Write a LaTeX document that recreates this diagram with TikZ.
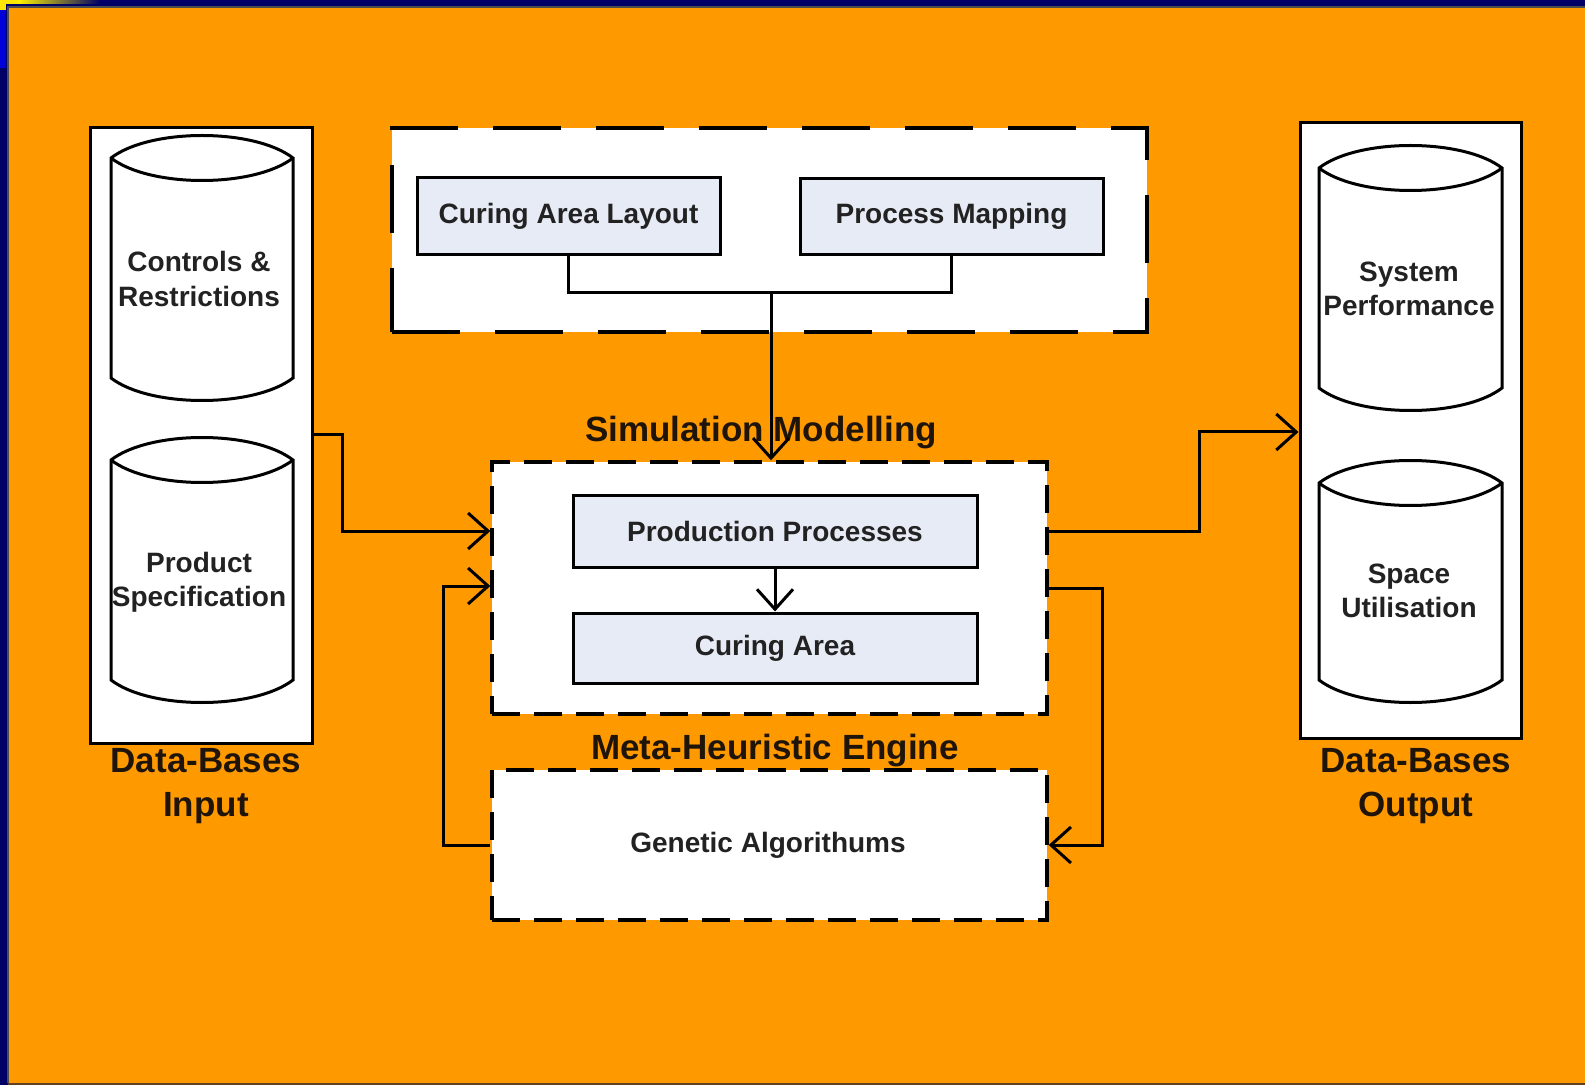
\documentclass[tikz,border=0pt]{standalone}
\usepackage{fontspec}
\setmainfont{Liberation Sans}
\usetikzlibrary{arrows.meta}
\definecolor{navy}{RGB}{0,0,102}
\definecolor{bgorange}{RGB}{255,153,0}
\definecolor{boxfill}{RGB}{230,235,245}
\definecolor{txt}{RGB}{34,34,34}
\definecolor{lbl}{RGB}{30,20,10}
\begin{document}
\begin{tikzpicture}[x=0.5pt,y=-0.5pt,
  dbbox/.style={draw=black, fill=white, line width=1.5pt, inner sep=0pt},
  dashbox/.style={draw=black, fill=white, line width=1.7pt, inner sep=0pt, dash pattern=on 14pt off 7pt},
  bigdash/.style={dashbox, dash pattern=on 34pt off 17.5pt},
  smallbox/.style={draw=black, fill=boxfill, line width=1.5pt, inner sep=0pt, text=txt,
     font=\fontsize{14}{17}\selectfont\bfseries},
  cylst/.style={draw=black, fill=white, line width=1.5pt},
  cyltext/.style={text=txt, align=center, font=\fontsize{14}{17.2}\selectfont\bfseries},
  biglabel/.style={text=lbl, align=center, font=\fontsize{17.5}{21.7}\selectfont\bfseries},
  conn/.style={draw=black, line width=1.5pt},
  arr/.style={conn, -{Straight Barb[length=10pt,width=18pt,line width=1.5pt]}}
]
\useasboundingbox (0,0) rectangle (1585,1085);
% frame
\fill[navy] (0,0) rectangle (1585,1085);
\shade[left color=yellow!90!orange, right color=navy] (18,0) rectangle (100,4);
\fill[yellow!90!orange] (0,0) rectangle (18,4);
\fill[yellow!90!orange] (0,0) rectangle (6,10);
\fill[blue!75!navy] (0,10) rectangle (6,68);
\fill[bgorange] (8,7) rectangle (1585,1083);
\draw[gray!60!black, line width=1pt] (8,1083) -- (8,7) -- (1585,7);
\draw[brown!50!black, line width=0.8pt] (8,1084) -- (1585,1084);

% data-base boxes
\node[dbbox, minimum width=111pt, minimum height=307.5pt] (leftdb) at (201,435.5) {};
\node[dbbox, minimum width=110.5pt, minimum height=307.5pt] (rightdb) at (1410.5,430.5) {};

% cylinders
\filldraw[cylst] (111,158) .. controls (150,128) and (254,128) .. (293,158) -- (293,378) .. controls (254,408) and (150,408) .. (111,378) -- cycle;
\draw[cylst, fill=none] (111,158) .. controls (150,188) and (254,188) .. (293,158);
\filldraw[cylst] (111,460) .. controls (150,430) and (254,430) .. (293,460) -- (293,680) .. controls (254,710) and (150,710) .. (111,680) -- cycle;
\draw[cylst, fill=none] (111,460) .. controls (150,490) and (254,490) .. (293,460);
\filldraw[cylst] (1319,168) .. controls (1358,138) and (1463,138) .. (1502,168) -- (1502,388) .. controls (1463,418) and (1358,418) .. (1319,388) -- cycle;
\draw[cylst, fill=none] (1319,168) .. controls (1358,198) and (1463,198) .. (1502,168);
\filldraw[cylst] (1319,483) .. controls (1358,453) and (1463,453) .. (1502,483) -- (1502,680) .. controls (1463,710) and (1358,710) .. (1319,680) -- cycle;
\draw[cylst, fill=none] (1319,483) .. controls (1358,513) and (1463,513) .. (1502,483);

\node[cyltext] (ctrl) at (199,279) {Controls \&\\Restrictions};
\node[cyltext] (pspec) at (199,582) {Product\\Specification};
\node[cyltext] (sysperf) at (1409,289) {System\\Performance};
\node[cyltext] (spaceu) at (1409,591) {Space\\Utilisation};

\node[biglabel] (inlbl) at (206,786) {Data-Bases\\Input};
\node[biglabel] (outlbl) at (1416,786) {Data-Bases\\Output};

% top group
\node[bigdash, minimum width=377.5pt, minimum height=102pt] (topgrp) at (769.5,230) {};
\node[smallbox, minimum width=151.5pt, minimum height=38.5pt] (cal) at (568.5,216.5) {Curing Area Layout};
\node[smallbox, minimum width=151.5pt, minimum height=38pt] (pm) at (951.5,216.5) {Process Mapping};
\coordinate (j) at (771,293);
\draw[conn] (cal.south) -- (cal.south |- j) -- (pm.south |- j) -- (pm.south);

% simulation
\node[dashbox, minimum width=277.5pt, minimum height=126pt] (sim) at (769.5,588) {};
\node[biglabel] (simlbl) at (761,433) {Simulation Modelling};
\node[smallbox, minimum width=202pt, minimum height=35.5pt] (prod) at (775,531.5) {Production Processes};
\node[smallbox, minimum width=202pt, minimum height=35pt] (cur) at (775,648) {Curing Area};
\draw[arr] (prod.south) -- (cur.north);
\draw[arr] (j) -- (j |- sim.north);

% meta-heuristic
\node[dashbox, minimum width=277.5pt, minimum height=75pt] (gen) at (769.5,845) {};
\node[biglabel] (metalbl) at (775,751) {Meta-Heuristic Engine};
\node[cyltext] (galbl) at (768,845) {Genetic Algorithums};

% connectors
\coordinate (y435) at (0,435);
\coordinate (y531) at (0,531);
\coordinate (y432) at (0,432);
\draw[arr] (leftdb.east |- y435) -- (342,435) |- (sim.west |- y531);
\draw[arr] (gen.west) -- (443,845) |- (sim.west |- 0,586);
\draw[arr] (sim.east |- y531) -- (1199,531) |- (rightdb.west |- y432);
\draw[arr] (sim.east) -- (1102,588) |- (gen.east);
\end{tikzpicture}
\end{document}
